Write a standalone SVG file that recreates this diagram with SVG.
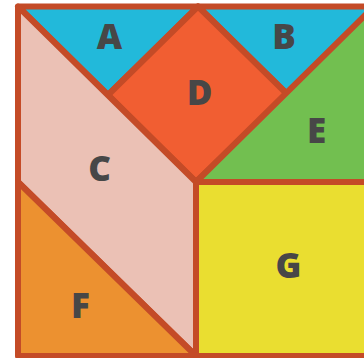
<svg xmlns="http://www.w3.org/2000/svg" width="364" height="358" viewBox="0 0 364 358">
<style>
.p{stroke:#C44B27;stroke-width:6;stroke-linejoin:round}
.t{font-family:"Open Sans","DejaVu Sans",sans-serif;font-weight:800;font-size:35px;fill:#474747;text-anchor:middle}
</style>
<rect width="364" height="358" fill="#ffffff"/>
<g id="A"><polygon class="p" fill="#22B9DA" points="18,6.5 198,6.5 108,95"/><text class="t" x="109.5" y="49">A</text></g>
<g id="B"><polygon class="p" fill="#22B9DA" points="198,6.5 374,6.5 287,94"/><text class="t" x="284" y="49">B</text></g>
<g id="D"><polygon class="p" fill="#F15E32" points="198,6.5 287,94 196,182 108,95"/><text class="t" x="199.5" y="105">D</text></g>
<g id="E"><polygon class="p" fill="#72BF50" points="374,6.5 374,182 196,182"/><text class="t" x="316.5" y="143">E</text></g>
<g id="C"><polygon class="p" fill="#EBC1B5" points="18,6.5 196,182 196,356 18,182"/><text class="t" x="99.5" y="181">C</text></g>
<g id="F"><polygon class="p" fill="#EC9130" points="18,182 196,356 18,356"/><text class="t" x="80.5" y="318">F</text></g>
<g id="G"><polygon class="p" fill="#EADE30" points="196,182 374,182 374,356 196,356"/><text class="t" x="288.5" y="278">G</text></g>
</svg>
